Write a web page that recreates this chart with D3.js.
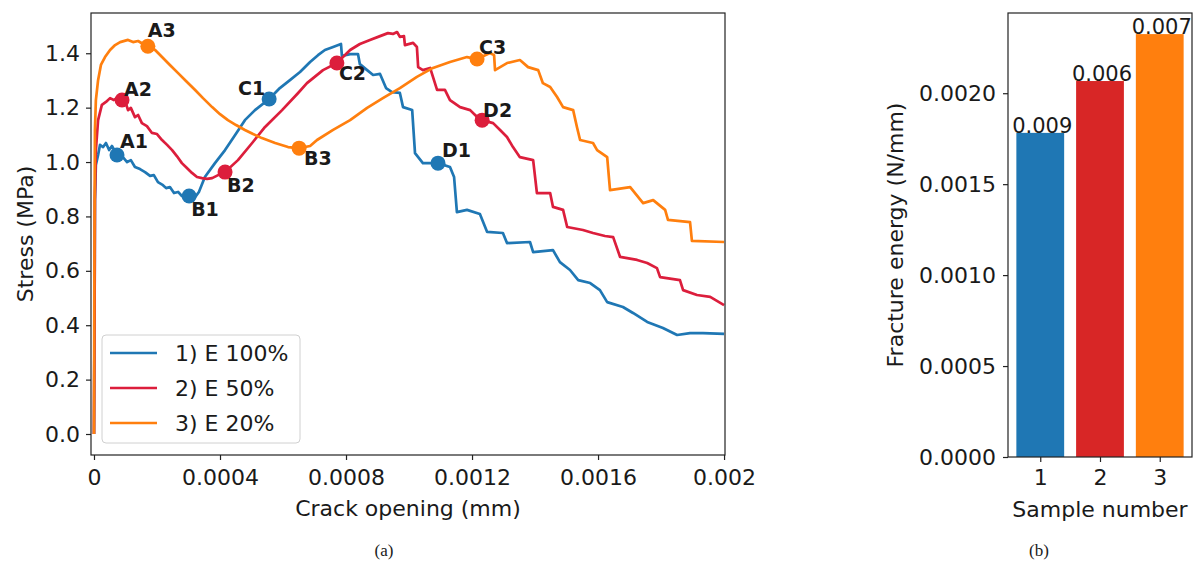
<!DOCTYPE html>
<html>
<head>
<meta charset="utf-8">
<script src="https://cdn.jsdelivr.net/npm/d3@7"></script>
<style>
  body { margin: 0; background: #fff; }
  svg text { font-family: "DejaVu Sans", sans-serif; fill: #1a1a1a; }
</style>
</head>
<body>
<svg id="fig" width="1200" height="562"></svg>
<script>
// ---- Stress vs crack opening, [opening (mm), stress (MPa)] ----
const e100 = [
  [0, 0], [0.000002, 0.493], [0.000003, 0.86], [0.000006, 0.989], [0.000013, 1.026],
  [0.000019, 1.063], [0.000029, 1.055], [0.000038, 1.07], [0.000048, 1.044], [0.000057, 1.059],
  [0.000073, 1.026], [0.000089, 1.022], [0.000105, 1.0], [0.000117, 1.007], [0.00013, 0.982],
  [0.000146, 0.974], [0.000162, 0.963], [0.000178, 0.949], [0.00019, 0.952], [0.000203, 0.926],
  [0.000219, 0.915], [0.000229, 0.904], [0.000241, 0.908], [0.000254, 0.886], [0.000267, 0.89],
  [0.000279, 0.875], [0.000302, 0.875], [0.000321, 0.871], [0.000333, 0.89], [0.000352, 0.945],
  [0.000384, 0.996], [0.000416, 1.044], [0.000448, 1.099], [0.000479, 1.154], [0.000511, 1.191],
  [0.000556, 1.232], [0.00059, 1.272], [0.000622, 1.301], [0.000654, 1.331], [0.000686, 1.368],
  [0.000711, 1.393], [0.000733, 1.412], [0.000759, 1.423], [0.000784, 1.434], [0.000787, 1.39],
  [0.000813, 1.397], [0.000838, 1.397], [0.000844, 1.36], [0.000867, 1.338], [0.000886, 1.32],
  [0.000908, 1.324], [0.000927, 1.272], [0.000946, 1.257], [0.000971, 1.254], [0.000981, 1.202],
  [0.00101, 1.191], [0.001019, 1.033], [0.001044, 0.996], [0.001092, 0.996], [0.00113, 0.982],
  [0.001143, 0.945], [0.001152, 0.816], [0.001184, 0.824], [0.001225, 0.809], [0.001248, 0.743],
  [0.001298, 0.739], [0.001311, 0.702], [0.001384, 0.706], [0.001394, 0.669], [0.001457, 0.676],
  [0.001479, 0.632], [0.001511, 0.603], [0.001537, 0.566], [0.001575, 0.555], [0.001606, 0.529],
  [0.001629, 0.485], [0.001679, 0.467], [0.001711, 0.445], [0.001756, 0.412], [0.001806, 0.39],
  [0.001851, 0.364], [0.001892, 0.371], [0.001933, 0.371], [0.002, 0.368]
];
const e50 = [
  [0, 0], [0.000002, 0.493], [0.000003, 0.86], [0.000006, 1.044], [0.000013, 1.154],
  [0.000025, 1.21], [0.000038, 1.221], [0.000051, 1.235], [0.000063, 1.228], [0.000076, 1.239],
  [0.000089, 1.228], [0.000102, 1.213], [0.000108, 1.191], [0.000117, 1.199], [0.00013, 1.165],
  [0.00014, 1.173], [0.000152, 1.143], [0.000168, 1.132], [0.000184, 1.107], [0.0002, 1.103],
  [0.000216, 1.081], [0.000232, 1.063], [0.000248, 1.044], [0.000263, 1.022], [0.000279, 0.996],
  [0.000295, 0.978], [0.000311, 0.96], [0.000327, 0.945], [0.000343, 0.941], [0.000359, 0.938],
  [0.000375, 0.941], [0.000394, 0.952], [0.000416, 0.963], [0.000457, 1.007], [0.000502, 1.07],
  [0.000543, 1.129], [0.000597, 1.191], [0.000648, 1.254], [0.000676, 1.29], [0.000727, 1.338],
  [0.000771, 1.364], [0.000813, 1.412], [0.000844, 1.434], [0.000876, 1.449], [0.000908, 1.463],
  [0.000933, 1.474], [0.000949, 1.471], [0.000962, 1.478], [0.000971, 1.46], [0.000984, 1.463],
  [0.000987, 1.43], [0.001013, 1.438], [0.001025, 1.423], [0.001029, 1.349], [0.001044, 1.338],
  [0.001067, 1.346], [0.001076, 1.313], [0.001089, 1.265], [0.001114, 1.265], [0.00113, 1.228],
  [0.001162, 1.202], [0.001194, 1.191], [0.001213, 1.169], [0.001232, 1.154], [0.001267, 1.143],
  [0.001289, 1.118], [0.001311, 1.092], [0.00133, 1.055], [0.001352, 1.018], [0.001394, 1.007],
  [0.001406, 0.886], [0.001448, 0.886], [0.001457, 0.835], [0.001489, 0.824], [0.001502, 0.761],
  [0.001552, 0.75], [0.001584, 0.739], [0.001622, 0.728], [0.001648, 0.724], [0.00167, 0.651],
  [0.001724, 0.64], [0.001756, 0.629], [0.001787, 0.61], [0.001797, 0.577], [0.00186, 0.566],
  [0.00187, 0.529], [0.001914, 0.511], [0.001956, 0.504], [0.002, 0.474]
];
const e20 = [
  [0, 0], [0.000001, 0.493], [0.000002, 0.86], [0.000003, 1.118], [0.000006, 1.228],
  [0.000013, 1.301], [0.000022, 1.357], [0.000035, 1.386], [0.000051, 1.412], [0.000067, 1.43],
  [0.000083, 1.441], [0.000108, 1.449], [0.000124, 1.441], [0.00014, 1.445], [0.000156, 1.434],
  [0.000171, 1.426], [0.000194, 1.412], [0.000216, 1.386], [0.000241, 1.357], [0.000267, 1.327],
  [0.000292, 1.298], [0.000321, 1.265], [0.000346, 1.235], [0.000375, 1.202], [0.0004, 1.176],
  [0.000425, 1.154], [0.000451, 1.136], [0.000479, 1.118], [0.000505, 1.103], [0.000533, 1.088],
  [0.000575, 1.07], [0.000616, 1.055], [0.000651, 1.051], [0.000686, 1.059], [0.000708, 1.081],
  [0.000759, 1.118], [0.000813, 1.154], [0.000867, 1.199], [0.000917, 1.235], [0.000971, 1.272],
  [0.001025, 1.313], [0.001076, 1.346], [0.00113, 1.368], [0.001184, 1.386], [0.001216, 1.379],
  [0.001257, 1.401], [0.00127, 1.393], [0.001273, 1.338], [0.001311, 1.364], [0.001352, 1.375],
  [0.001378, 1.349], [0.00141, 1.338], [0.001425, 1.29], [0.001448, 1.276], [0.00147, 1.239],
  [0.001489, 1.202], [0.001521, 1.191], [0.001533, 1.129], [0.001543, 1.081], [0.001584, 1.07],
  [0.001597, 1.044], [0.001629, 1.018], [0.001638, 0.897], [0.001702, 0.908], [0.001743, 0.849],
  [0.001775, 0.86], [0.001813, 0.824], [0.001822, 0.787], [0.001892, 0.779], [0.001898, 0.71],
  [0.002, 0.706]
];
const seriesNames = ["1) E 100%", "2) E 50%", "3) E 20%"];

// Characteristic points on each curve
const keyPointNames = ["A1", "B1", "C1", "D1", "A2", "B2", "C2", "D2", "A3", "B3", "C3"];
const keyPointSeries = [0, 0, 0, 0, 1, 1, 1, 1, 2, 2, 2];
const keyPointOpening = [0.000073, 0.000302, 0.000556, 0.001092, 0.000089, 0.000416, 0.000771, 0.001232, 0.000171, 0.000651, 0.001216];
const keyPointStress = [1.026, 0.875, 1.232, 0.996, 1.228, 0.963, 1.364, 1.154, 1.426, 1.051, 1.379];

const xTickValues = [0, 0.0004, 0.0008, 0.0012, 0.0016, 0.002];
const xTickLabels = ["0", "0.0004", "0.0008", "0.0012", "0.0016", "0.002"];
const yTickValues = [0, 0.2, 0.4, 0.6, 0.8, 1.0, 1.2, 1.4];

// ---- Fracture energy per sample ----
const samples = [1, 2, 3];
const fractureEnergy = [0.001782, 0.002067, 0.002325];
const barAnnotations = ["0.009", "0.006", "0.007"];
const energyTicks = [0, 0.0005, 0.001, 0.0015, 0.002];

// ---- styling ----
const lineColors = ["#1f77b4", "#dc1e3c", "#ff7f0e"];
const barColors = ["#1f77b4", "#d82626", "#ff7f0e"];
const labelOffsets = {
  A1: [3, -7, "start"], A2: [2, -4, "start"], A3: [0, -9, "start"],
  B1: [2, 20, "start"], B2: [2, 20, "start"], B3: [5, 17, "start"],
  C1: [-4, -4, "end"], C2: [2, 17, "start"], C3: [2, -5, "start"],
  D1: [4, -6, "start"], D2: [1, -3, "start"]
};

const svg = d3.select("#fig");
const FS = 22;

function styleAxis(g) {
  g.select(".domain").remove();
  g.selectAll(".tick line").attr("stroke", "#222").attr("stroke-width", 1.2);
  g.selectAll(".tick text").style("font-size", FS + "px").attr("fill", "#1a1a1a");
}

// ================= panel (a) =================
const A = { left: 91, right: 725, top: 13, bottom: 455 };
const xA = d3.scaleLinear().domain([-0.0000095, 0.002003]).range([A.left, A.right]);
const yA = d3.scaleLinear().domain([-0.0772, 1.548]).range([A.bottom, A.top]);

svg.append("defs").append("clipPath").attr("id", "clipA")
  .append("rect").attr("x", A.left).attr("y", A.top)
  .attr("width", A.right - A.left).attr("height", A.bottom - A.top);

const line = d3.line().x(d => xA(d[0])).y(d => yA(d[1]));
const plotA = svg.append("g").attr("clip-path", "url(#clipA)");
[e100, e50, e20].forEach((s, i) => {
  plotA.append("path").datum(s).attr("d", line)
    .attr("fill", "none").attr("stroke", lineColors[i])
    .attr("stroke-width", 2.7).attr("stroke-linejoin", "round");
});

keyPointNames.forEach((n, i) => {
  plotA.append("circle")
    .attr("cx", xA(keyPointOpening[i])).attr("cy", yA(keyPointStress[i]))
    .attr("r", 7.5).attr("fill", lineColors[keyPointSeries[i]]);
});
keyPointNames.forEach((n, i) => {
  const o = labelOffsets[n];
  svg.append("text")
    .attr("x", xA(keyPointOpening[i]) + o[0]).attr("y", yA(keyPointStress[i]) + o[1])
    .attr("text-anchor", o[2])
    .style("font-size", "19px").style("font-weight", "bold").attr("fill", "#000")
    .text(n);
});

svg.append("g").attr("transform", `translate(0,${A.bottom})`)
  .call(d3.axisBottom(xA).tickValues(xTickValues).tickFormat((d, i) => xTickLabels[i])
    .tickSize(5).tickPadding(9))
  .call(styleAxis);
svg.append("g").attr("transform", `translate(${A.left},0)`)
  .call(d3.axisLeft(yA).tickValues(yTickValues).tickFormat(d3.format(".1f"))
    .tickSize(5).tickPadding(6))
  .call(styleAxis);

svg.append("rect").attr("x", A.left).attr("y", A.top)
  .attr("width", A.right - A.left).attr("height", A.bottom - A.top)
  .attr("fill", "none").attr("stroke", "#222").attr("stroke-width", 1.2);

svg.append("text").attr("x", (A.left + A.right) / 2).attr("y", 516)
  .attr("text-anchor", "middle").style("font-size", FS + "px").text("Crack opening (mm)");
svg.append("text").attr("transform", `translate(33,${(A.top + A.bottom) / 2}) rotate(-90)`)
  .attr("text-anchor", "middle").style("font-size", FS + "px").text("Stress (MPa)");

// legend
const leg = svg.append("g").attr("transform", "translate(102,335)");
leg.append("rect").attr("width", 198).attr("height", 108).attr("rx", 4)
  .attr("fill", "#fff").attr("fill-opacity", 0.8).attr("stroke", "#d0d0d0");
seriesNames.forEach((name, i) => {
  const y = 18 + i * 35;
  leg.append("line").attr("x1", 8).attr("x2", 55).attr("y1", y).attr("y2", y)
    .attr("stroke", lineColors[i]).attr("stroke-width", 2.7);
  leg.append("text").attr("x", 73).attr("y", y).attr("dy", "0.36em")
    .style("font-size", FS + "px").text(name);
});

// ================= panel (b) =================
const B = { left: 1008, right: 1192, top: 13, bottom: 457 };
const xB = d3.scaleLinear().domain([0.46, 3.54]).range([B.left, B.right]);
const yB = d3.scaleLinear().domain([0, 0.002441]).range([B.bottom, B.top]);
const barW = xB(0.8) - xB(0);

samples.forEach((s, i) => {
  svg.append("rect")
    .attr("x", xB(s) - barW / 2).attr("y", yB(fractureEnergy[i]))
    .attr("width", barW).attr("height", yB(0) - yB(fractureEnergy[i]))
    .attr("fill", barColors[i]);
  svg.append("text")
    .attr("x", xB(s) + 2).attr("y", yB(fractureEnergy[i]))
    .attr("text-anchor", "middle").style("font-size", "21px").text(barAnnotations[i]);
});

svg.append("g").attr("transform", `translate(0,${B.bottom})`)
  .call(d3.axisBottom(xB).tickValues(samples).tickFormat(d3.format("d"))
    .tickSize(5).tickPadding(7))
  .call(styleAxis);
svg.append("g").attr("transform", `translate(${B.left},0)`)
  .call(d3.axisLeft(yB).tickValues(energyTicks).tickFormat(d3.format(".4f"))
    .tickSize(5).tickPadding(7))
  .call(styleAxis);

svg.append("rect").attr("x", B.left).attr("y", B.top)
  .attr("width", B.right - B.left).attr("height", B.bottom - B.top)
  .attr("fill", "none").attr("stroke", "#222").attr("stroke-width", 1.2);

svg.append("text").attr("x", (B.left + B.right) / 2).attr("y", 517)
  .attr("text-anchor", "middle").style("font-size", FS + "px").text("Sample number");
svg.append("text").attr("transform", `translate(903,${(B.top + B.bottom) / 2}) rotate(-90)`)
  .attr("text-anchor", "middle").style("font-size", FS + "px").text("Fracture energy (N/mm)");

// sub-figure captions
[["(a)", 384], ["(b)", 1039]].forEach(([t, x]) => {
  svg.append("text").attr("x", x).attr("y", 556).attr("text-anchor", "middle")
    .style("font-family", "'Liberation Serif', serif").style("font-size", "17px")
    .text(t);
});
</script>
</body>
</html>
